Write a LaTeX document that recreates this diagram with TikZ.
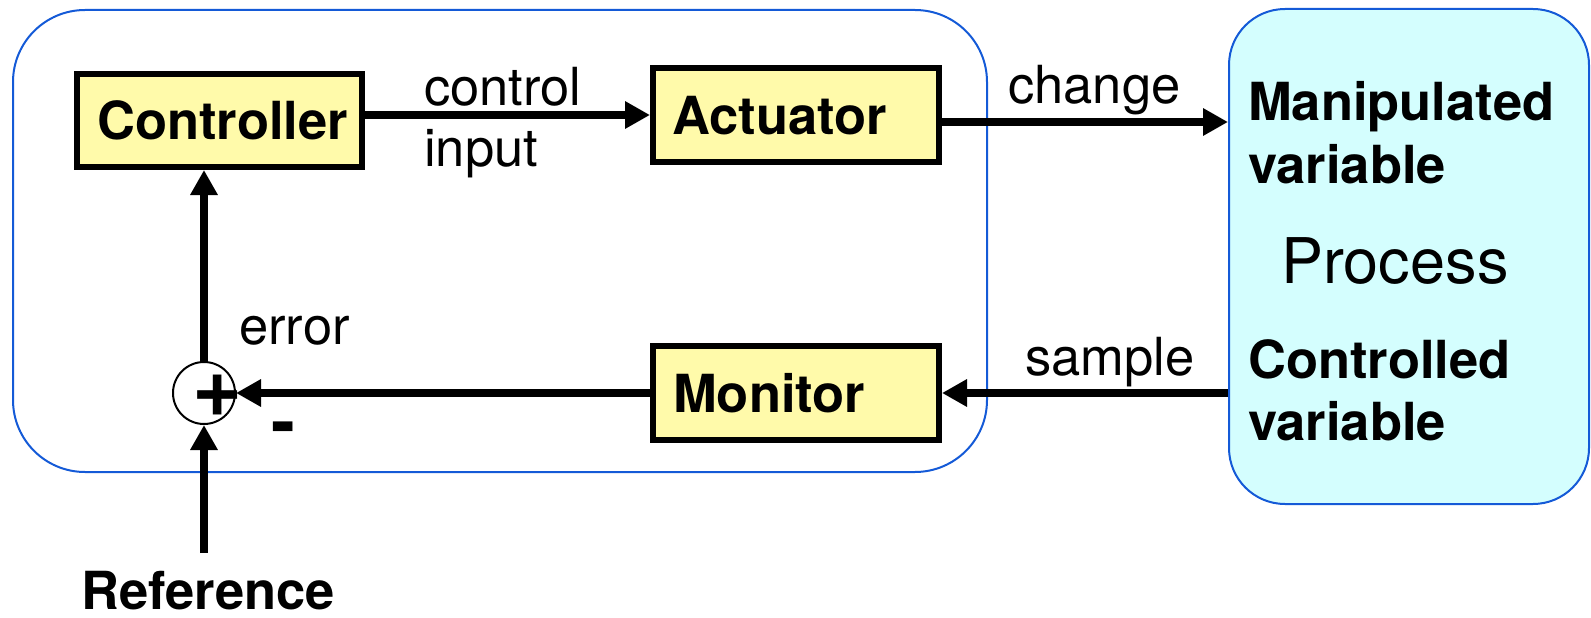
\documentclass[tikz,border=0pt]{standalone}
\usepackage{fontspec}
\setmainfont{TeX Gyre Heros}
\usetikzlibrary{arrows.meta}
\definecolor{boxyellow}{RGB}{255,250,170}
\definecolor{proccyan}{RGB}{212,254,254}
\definecolor{frameblue}{RGB}{20,90,215}

\begin{document}
\begin{tikzpicture}[x=1pt,y=-1pt,
  blockbox/.style={draw=black, line width=6pt, fill=boxyellow,
    minimum width=286pt, minimum height=94pt, inner sep=0pt},
  lbl/.style={inner sep=0pt, anchor=base west, font=\fontsize{52.5}{62}\selectfont},
  blbl/.style={inner sep=0pt, anchor=base west, font=\fontsize{52.5}{62}\selectfont\bfseries},
  sign/.style={inner sep=0pt, anchor=center},
  flow/.style={line width=7.5pt, -{Triangle[length=25pt,width=26pt]}},
  frame/.style={draw=frameblue, line width=2pt, inner sep=0pt},
]
\useasboundingbox (0,0) rectangle (1591,618);

% control loop enclosure and the process
\node[frame, rounded corners=72pt, minimum width=974pt, minimum height=462pt] (loop) at (500,241) {};
\node[frame, fill=proccyan, rounded corners=56pt, minimum width=360pt, minimum height=495pt] (proc) at (1409,256.5) {};

% blocks
\node[blockbox, minimum width=285pt, minimum height=93pt] (ctrl) at (219.5,120.5) {};
\node[blockbox] (act) at (796,115) {};
\node[blockbox] (mon) at (796,393) {};
\node[blbl] (ctrltxt) at (97,139.5) {Controller};
\node[blbl] (acttxt) at (672,134) {Actuator};
\node[blbl] (montxt) at (673,412) {Monitor};

% summing junction
\node[circle, draw, line width=2pt, fill=white, minimum size=62pt, inner sep=0pt] (sum) at (204,393) {};
\node[sign, font=\fontsize{86}{90}\selectfont\bfseries] (plus) at (218,396) {+};
\node[sign, font=\fontsize{72}{80}\selectfont\bfseries] (minus) at (283,434) {-};

% process texts
\node[blbl] (mv1) at (1248,121) {Manipulated};
\node[blbl] (mv2) at (1248,183) {variable};
\node[lbl, font=\fontsize{63}{70}\selectfont] (ptxt) at (1281,283) {Process};
\node[blbl] (cv1) at (1248,378) {Controlled};
\node[blbl] (cv2) at (1248,440) {variable};

% connector labels
\node[lbl] (lctl1) at (424,105) {control};
\node[lbl] (lctl2) at (424,166) {input};
\node[lbl] (lchg) at (1008,103) {change};
\node[lbl] (lsmp) at (1025,375) {sample};
\node[lbl] (lerr) at (239,344) {error};
\node[blbl] (ref) at (81,609) {Reference};

% signal flow
\coordinate (refin) at (204,553);
\draw[flow] (ctrl.east |- act.west) -- (act.west);
\draw[flow] ([yshift=-7pt]act.east) -- ([yshift=-7pt]act.east -| proc.west);
\draw[flow] (mon.east -| proc.west) -- (mon.east);
\draw[flow] (mon.west) -- (sum.east);
\draw[flow] (sum.north) -- (sum.north |- ctrl.south);
\draw[flow] (refin) -- (sum.south);
\end{tikzpicture}
\end{document}
